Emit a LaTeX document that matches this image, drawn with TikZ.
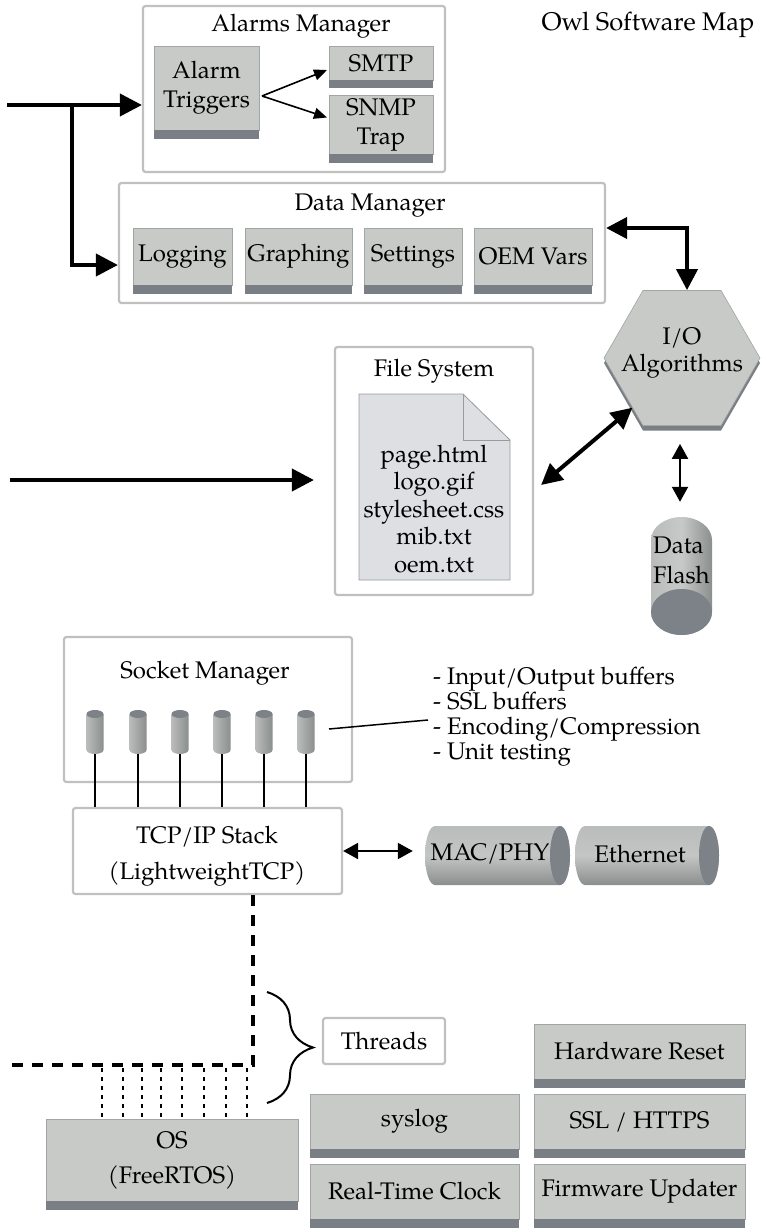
\documentclass[tikz,border=0pt]{standalone}
\usepackage{fontspec}
\setmainfont{texgyrepagella-regular.otf}
\usetikzlibrary{arrows.meta,shapes.geometric,decorations.pathreplacing}

\definecolor{boxfill}{RGB}{199,202,199}
\definecolor{boxedge}{RGB}{160,165,165}
\definecolor{stripcol}{RGB}{122,127,133}
\definecolor{frameedge}{RGB}{192,192,192}
\definecolor{docfill}{RGB}{221,223,227}
\definecolor{docedge}{RGB}{150,155,160}
\definecolor{cylA}{RGB}{185,188,186}
\definecolor{cylB}{RGB}{138,142,141}
\definecolor{cylend}{RGB}{125,130,136}

\newcommand\txtsize[1]{\fontsize{24}{#1}\selectfont}

\tikzset{
  every node/.style={font=\txtsize{29}},
  gbox/.style={draw=boxedge, line width=0.8pt, fill=boxfill, inner sep=0pt, outer sep=0pt, align=center},
  panelbox/.style={draw=frameedge, line width=2.2pt, fill=white, rounded corners=2.5pt, inner sep=0pt, align=center},
  bigarrow/.style={line width=4pt, -{Triangle[length=22pt,width=22pt]}},
  bigboth/.style={line width=4pt, {Triangle[length=21pt,width=21pt]}-{Triangle[length=21pt,width=21pt]}},
  medboth/.style={line width=2pt, {Triangle[length=15pt,width=16pt]}-{Triangle[length=15pt,width=16pt]}},
  thinarrow/.style={line width=1.6pt, -{Triangle[length=13pt,width=11pt]}},
  thickdash/.style={line width=4.5pt, dash pattern=on 11pt off 9pt},
  thindots/.style={line width=2pt, dash pattern=on 4pt off 5pt},
  wire/.style={line width=1.2pt},
  hexa/.style={regular polygon, regular polygon sides=6, minimum size=156pt, inner sep=0pt},
}

% grey block with a dark strip underneath: name, left, top, right, bottom, text
\newcommand\gblock[6]{%
  \node[gbox, minimum width={#4-#2}, minimum height={#5-#3}] (#1) at ({(#2+#4)/2},{(#3+#5)/2}) {#6};
  \fill[stripcol] (#1.south west) rectangle ([yshift=-8.5pt]#1.south east);
}
% light framed panel: name, left, top, right, bottom, text
\newcommand\panel[6]{%
  \node[panelbox, minimum width={#4-#2}, minimum height={#5-#3}] (#1) at ({(#2+#4)/2},{(#3+#5)/2}) {#6};
}

\begin{document}
\begin{tikzpicture}[x=1pt,y=-1pt]
\useasboundingbox (0,0) rectangle (765,1228);

% ---------- title ----------
\node[font=\fontsize{25.5}{29}\selectfont] (maptitle) at (648,25) {Owl Software Map};

% ---------- alarms manager ----------
\panel{alarmsframe}{143}{6}{445}{172}{}
\node (alarmstitle) at (301,26) {Alarms Manager};
\gblock{trig}{154}{46}{259}{130}{Alarm\\Triggers}
\gblock{smtp}{329}{46}{433}{80}{SMTP}
\gblock{snmp}{329}{95}{433}{154}{SNMP\\Trap}
\draw[thinarrow] ([shift={(3pt,-8pt)}]trig.east) -- ([shift={(-2pt,-7pt)}]smtp.west);
\draw[thinarrow] ([shift={(3pt,-8pt)}]trig.east) -- ([shift={(-2pt,7pt)}]snmp.west);

% ---------- data manager ----------
\panel{dataframe}{119}{183}{605}{303}{}
\node (datatitle) at (370,206) {Data Manager};
\gblock{log}{133}{228}{232}{285}{Logging}
\gblock{graph}{245}{228}{352}{285}{Graphing}
\gblock{set}{364}{228}{462}{285}{Settings}
\gblock{oem}{474}{228}{592}{285}{OEM Vars}

% ---------- incoming arrows on the left ----------
\coordinate (inA) at (7,105);
\coordinate (branch) at (72,105);
\draw[bigarrow] (inA) -- (inA -| alarmsframe.west);
\draw[bigarrow] (branch) |- ([yshift=-22pt]dataframe.west);

% ---------- I/O algorithms ----------
\node[hexa, fill=stripcol] (iorim) at (682,363) {};
\node[hexa, fill=boxfill, draw=boxedge, line width=0.6pt] (io) at (682,358) {};
\node[font=\txtsize{27}, align=center] (iotext) at (682,353) {I/O\\Algorithms};
\draw[bigboth] ([xshift=5pt]io.north) |- ([yshift=15pt]dataframe.east);

% ---------- file system ----------
\panel{fsframe}{335}{347}{533}{595}{}
\node (fstitle) at (434,371) {File System};
\filldraw[fill=docfill, draw=docedge, line width=0.8pt]
  (359,394) -- (463,394) -- (510,440) -- (510,580) -- (359,580) -- cycle;
\draw[docedge, line width=0.8pt] (463,394) -- (463,440) -- (510,440);
\node[font=\txtsize{27.5}, align=center] (files) at (434,509)
  {page.html\\logo.gif\\stylesheet.css\\mib.txt\\oem.txt};
\coordinate (inB) at (10,480);
\draw[bigarrow, shorten >=20pt] (inB) -- (inB -| fsframe.west);
\draw[bigboth] ([shift={(7pt,-14pt)}]fsframe.east) -- (io.225);

% ---------- data flash ----------
\node[minimum width=61pt, minimum height=118pt, inner sep=0pt] (flash) at (681.5,576) {};
\shade[left color=cylA, right color=cylB, middle color=cylA!80!white]
  (651,540) arc (180:360:30.5 and 23) -- (712,612) arc (0:180:30.5 and 23) -- cycle;
\fill[cylend] (681.5,612) ellipse (30.5 and 23);
\node[font=\txtsize{30}, align=left, anchor=west, inner sep=0pt] (flashtext) at (653,560) {Data\\Flash};
\draw[medboth, shorten <=18pt, shorten >=15pt] ([xshift=-2pt]io.south) -- ([xshift=-1.5pt]flash.north);

% ---------- socket manager ----------
\panel{sockframe}{64}{637}{352}{782}{}
\node (socktitle) at (205,673) {Socket Manager};
\panel{tcp}{73}{808}{342}{894}{}
\node[font=\txtsize{36}, align=center] (tcptext) at (207,856) {TCP/IP Stack\\(LightweightTCP)};
\foreach \i/\x in {1/95,2/138,3/180,4/222,5/264,6/306} {
  \shade[left color=cylA, right color=cylB]
    (\x-8.5,714) -- (\x-8.5,750) arc (180:0:8.5 and 4) -- (\x+8.5,714) -- cycle;
  \fill[cylend] (\x,714) ellipse (8.5 and 4);
  \coordinate (sock\i) at (\x,754);
  \draw[wire] (sock\i) -- (sock\i |- tcp.north);
}
\node[font=\txtsize{25}, align=left, anchor=west, inner sep=0pt] (notes) at (433,717)
  {- Input/Output buffers\\- SSL buffers\\- Encoding/Compression\\- Unit testing};
\draw[line width=1.5pt] ([shift={(23pt,25pt)}]sock6) -- ([shift={(-5pt,-3pt)}]notes.west);

% ---------- MAC/PHY and Ethernet ----------
\node[minimum width=145pt, minimum height=59pt, inner sep=0pt] (mac) at (497.5,855.5) {};
\node[minimum width=144pt, minimum height=59pt, inner sep=0pt] (eth) at (647,855.5) {};
\foreach \l/\r in {425/570,575/719} {
  \shade[top color=cylA, bottom color=cylB, middle color=cylA!85!white]
    (\l+10,826) -- (\r-10,826) arc (-90:90:10 and 29.5) -- (\l+10,885) arc (90:270:10 and 29.5) -- cycle;
  \fill[cylend] (\r-10,855.5) ellipse (10 and 29.5);
}
\node (mactext) at (490,854) {MAC/PHY};
\node (ethtext) at (640,854) {Ethernet};
\draw[medboth, shorten >=12pt] (tcp.east) -- (tcp.east -| mac.west);

% ---------- threads and OS ----------
\coordinate (dcorner) at (253,1065);
\coordinate (dleft) at (3,1065);
\draw[thickdash] (tcp.south -| dcorner) -- (dcorner) -- (dleft);
\gblock{os}{46}{1119}{298}{1201}{OS\\[6pt](FreeRTOS)}
\foreach \x in {102,123,142,161,182,204,226,247} {
  \coordinate (drop) at (\x,1068);
  \draw[thindots] (drop) -- (drop |- os.north);
}
\coordinate (bracetop) at (267,992);
\coordinate (bracebot) at (267,1103);
\draw[line width=2pt, decorate, decoration={brace, amplitude=46pt}] (bracetop) -- (bracebot);
\panel{threads}{323}{1018}{445}{1064}{Threads}

% ---------- service blocks ----------
\gblock{syslog}{310}{1094}{519}{1149}{syslog}
\gblock{rtc}{310}{1164}{519}{1219}{Real-Time Clock}
\gblock{hwreset}{534}{1024}{745}{1079}{Hardware Reset}
\gblock{ssl}{534}{1094}{745}{1149}{SSL / HTTPS}
\gblock{fw}{534}{1164}{745}{1219}{Firmware Updater}
\end{tikzpicture}
\end{document}
